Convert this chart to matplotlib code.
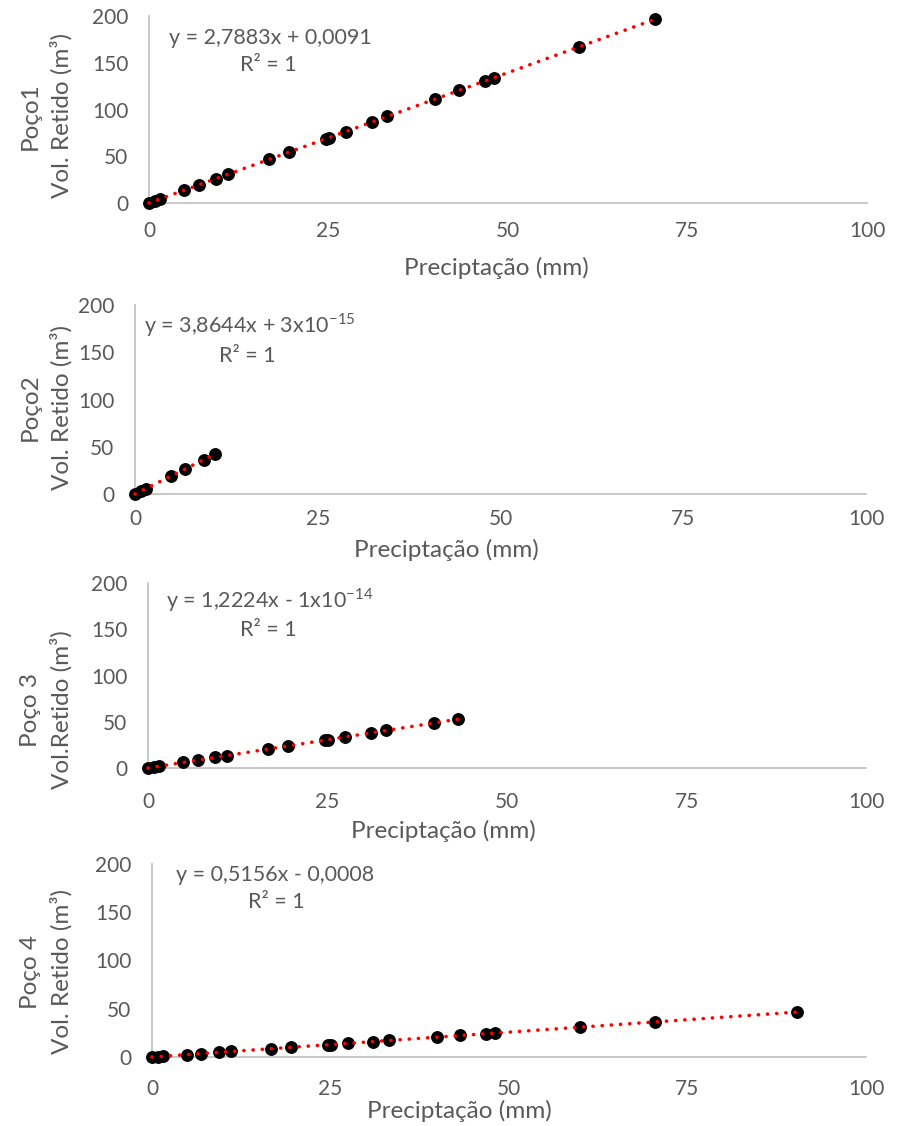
import matplotlib
matplotlib.use("Agg")
import matplotlib.pyplot as plt

plt.rcParams.update({
    "font.family": ["Lato", "DejaVu Sans"],
    "font.size": 15,
})
GRAY_TXT = "#595959"
AXIS = "#bfbfbf"
W, H = 898, 1126

# precipitation (mm)
precip_1 = [0, 0.8, 1.5, 4.9, 6.9, 9.4, 11.0, 16.7, 19.5, 24.7, 25.1, 27.4,
            31.0, 33.2, 39.9, 43.2, 46.8, 48.0, 59.9, 70.5]
vol_1 = [0, 2.2, 4.2, 13.7, 19.2, 26.2, 30.7, 46.6, 54.4, 68.9, 70.0, 76.4,
         86.4, 92.6, 111.3, 120.5, 130.5, 133.8, 167.0, 196.6]

precip_2 = [0, 0.8, 1.5, 4.9, 6.9, 9.4, 11.0]
vol_2 = [0, 3.1, 5.8, 18.9, 26.7, 36.3, 42.5]

precip_3 = [0, 0.8, 1.5, 4.9, 6.9, 9.4, 11.0, 16.7, 19.5, 24.7, 25.1, 27.4,
            31.0, 33.2, 39.9, 43.2]
vol_3 = [0, 1.0, 1.8, 6.0, 8.4, 11.5, 13.4, 20.4, 23.8, 30.2, 30.7, 33.5,
         37.9, 40.6, 48.8, 52.8]

precip_4 = [0, 0.8, 1.5, 4.9, 6.9, 9.4, 11.0, 16.7, 19.5, 24.7, 25.1, 27.4,
            31.0, 33.2, 39.9, 43.2, 46.8, 48.0, 59.9, 70.5, 90.4]
vol_4 = [0, 0.4, 0.8, 2.5, 3.6, 4.8, 5.7, 8.6, 10.1, 12.7, 12.9, 14.1,
         16.0, 17.1, 20.6, 22.3, 24.1, 24.7, 30.9, 36.4, 46.6]

# trendline coefficients as printed on the chart
slopes = [2.7883, 3.8644, 1.2224, 0.5156]
intercepts = [0.0091, 3e-15, -1e-14, -0.0008]
equations = [
    "y = 2,7883x + 0,0091",
    "y = 3,8644x + 3x10$^{\\mathregular{-15}}$",
    "y = 1,2224x - 1x10$^{\\mathregular{-14}}$",
    "y = 0,5156x - 0,0008",
]
ylabels = ["Poço1\nVol. Retido (m³)", "Poço2\nVol. Retido (m³)",
           "Poço 3\nVol.Retido (m³)", "Poço 4\nVol. Retido (m³)"]
x_ticks = [0, 25, 50, 75, 100]
y_ticks = [0, 50, 100, 150, 200]

# layout in pixels: (left, right, top, bottom) of plot area
boxes = [(149, 867, 16, 203), (135, 866, 305, 494),
         (148, 866, 583, 768), (152, 866, 864, 1057)]
xpads = [13, 11, 17, 16]
xlabel_pos = [(496, 268), (446, 550), (443, 831), (459, 1111)]
ylabel_pos = [(46, 116), (46, 407), (46, 710), (46, 972)]
eq_pos = [(270, 38), (250, 325), (270, 600), (275, 875)]
r2_pos = [(268, 65), (247, 356), (268, 630), (276, 902)]

fig = plt.figure(figsize=(W / 100, H / 100), dpi=100)
series = [(precip_1, vol_1), (precip_2, vol_2), (precip_3, vol_3), (precip_4, vol_4)]

for i, (px, vy) in enumerate(series):
    l, r, t, b = boxes[i]
    ax = fig.add_axes([l / W, 1 - b / H, (r - l) / W, (b - t) / H])
    ax.scatter(px, vy, s=68, color="black", zorder=3, clip_on=False)
    xs = [min(px), max(px)]
    ys = [slopes[i] * x + intercepts[i] for x in xs]
    ax.plot(xs, ys, color="red", lw=2.6, linestyle=(0, (0.05, 2.5)),
            dash_capstyle="round", zorder=4, clip_on=False)
    ax.set_xlim(0, 100)
    ax.set_ylim(0, 200)
    ax.set_xticks(x_ticks)
    ax.set_yticks(y_ticks)
    for s in ("top", "right"):
        ax.spines[s].set_visible(False)
    for s in ("left", "bottom"):
        ax.spines[s].set_color(AXIS)
        ax.spines[s].set_linewidth(1.2)
    ax.tick_params(axis="both", length=0, colors=GRAY_TXT, labelsize=15)
    ax.tick_params(axis="x", pad=xpads[i])
    ax.tick_params(axis="y", pad=15)

    fig.text(xlabel_pos[i][0] / W, 1 - xlabel_pos[i][1] / H, "Preciptação (mm)",
             ha="center", va="center", color=GRAY_TXT, fontsize=17.5)
    fig.text(ylabel_pos[i][0] / W, 1 - ylabel_pos[i][1] / H, ylabels[i],
             ha="center", va="center", rotation=90, multialignment="center",
             color=GRAY_TXT, fontsize=17.5, linespacing=1.5)
    fig.text(eq_pos[i][0] / W, 1 - eq_pos[i][1] / H, equations[i],
             ha="center", va="center", color=GRAY_TXT, fontsize=15.5)
    fig.text(r2_pos[i][0] / W, 1 - r2_pos[i][1] / H, "R² = 1",
             ha="center", va="center", color=GRAY_TXT, fontsize=15.5)

fig.savefig("out.png", dpi=100)
